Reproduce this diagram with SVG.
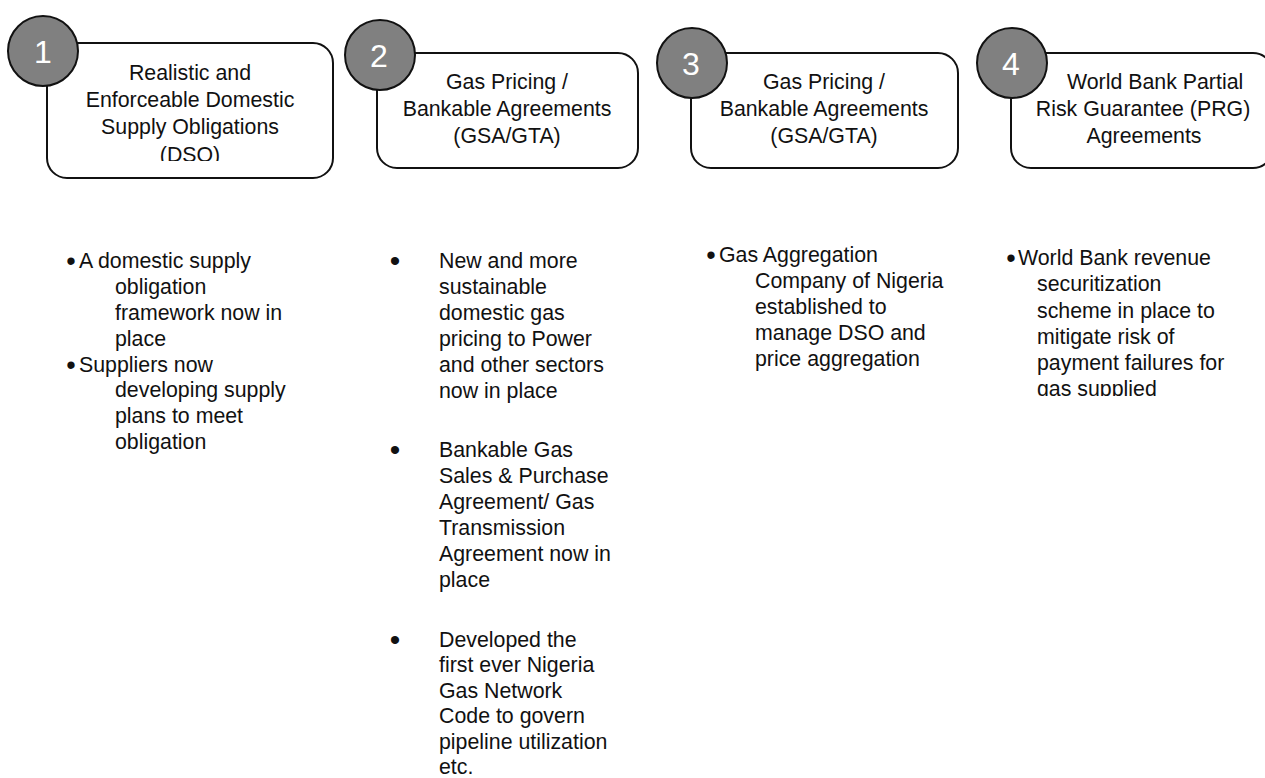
<svg xmlns="http://www.w3.org/2000/svg" width="1265" height="778" viewBox="0 0 1265 778">
<style>
text{font-family:"Liberation Sans",Arial,sans-serif;font-size:21.33px;fill:#111}
.box{fill:#fff;stroke:#111;stroke-width:2}
.num{fill:#808080;stroke:#111;stroke-width:2}
.nt{fill:#fff;font-size:32px;text-anchor:middle}
.c{text-anchor:middle}
.b{text-anchor:middle;font-size:27px}
.b2{text-anchor:middle;font-size:30px}
</style>
<defs>
<clipPath id="clip1"><rect x="47" y="43" width="286" height="118"/></clipPath>
<clipPath id="clip4"><rect x="990" y="230" width="275" height="166"/></clipPath>
</defs>
<g id="connectors"></g>
<g id="node1">
<rect class="box" x="47" y="43" width="286" height="135" rx="20"/>
<g clip-path="url(#clip1)">
<text class="c" x="190" y="80">Realistic and</text>
<text class="c" x="190" y="107">Enforceable Domestic</text>
<text class="c" x="190" y="134">Supply Obligations</text>
<text class="c" x="190" y="162">(DSO)</text>
</g>
<circle class="num" cx="43" cy="51" r="35"/>
<text class="nt" x="43" y="63">1</text>
</g>
<g id="node2">
<rect class="box" x="377" y="53" width="261" height="115" rx="20"/>
<text class="c" x="507" y="89">Gas Pricing /</text>
<text class="c" x="507" y="116">Bankable Agreements</text>
<text class="c" x="507" y="143">(GSA/GTA)</text>
<circle class="num" cx="380" cy="55" r="35"/>
<text class="nt" x="379" y="67">2</text>
</g>
<g id="node3">
<rect class="box" x="691" y="53" width="267" height="115" rx="20"/>
<text class="c" x="824" y="89">Gas Pricing /</text>
<text class="c" x="824" y="116">Bankable Agreements</text>
<text class="c" x="824" y="143">(GSA/GTA)</text>
<circle class="num" cx="692" cy="63" r="35"/>
<text class="nt" x="691" y="75">3</text>
</g>
<g id="node4">
<rect class="box" x="1011" y="53" width="262" height="115" rx="20"/>
<text x="1067" y="89">World Bank Partial</text>
<text class="c" x="1143" y="116">Risk Guarantee (PRG)</text>
<text class="c" x="1144" y="143">Agreements</text>
<circle class="num" cx="1012" cy="63" r="35"/>
<text class="nt" x="1011" y="75">4</text>
</g>
<g id="list1">
<text class="b" x="71" y="270">•</text>
<text x="79" y="268">A domestic supply</text>
<text x="115" y="294">obligation</text>
<text x="115" y="320">framework now in</text>
<text x="115" y="346">place</text>
<text class="b" x="71" y="374">•</text>
<text x="79" y="372">Suppliers now</text>
<text x="115" y="397">developing supply</text>
<text x="115" y="423">plans to meet</text>
<text x="115" y="449">obligation</text>
</g>
<g id="list2">
<text class="b2" x="395" y="271">•</text>
<text x="439" y="268">New and more</text>
<text x="439" y="294">sustainable</text>
<text x="439" y="320">domestic gas</text>
<text x="439" y="346">pricing to Power</text>
<text x="439" y="372">and other sectors</text>
<text x="439" y="398">now in place</text>
<text class="b2" x="395" y="460">•</text>
<text x="439" y="457">Bankable Gas</text>
<text x="439" y="483">Sales &amp; Purchase</text>
<text x="439" y="509">Agreement/ Gas</text>
<text x="439" y="535">Transmission</text>
<text x="439" y="561">Agreement now in</text>
<text x="439" y="587">place</text>
<text class="b2" x="395" y="650">•</text>
<text x="439" y="647">Developed the</text>
<text x="439" y="672">first ever Nigeria</text>
<text x="439" y="698">Gas Network</text>
<text x="439" y="723">Code to govern</text>
<text x="439" y="749">pipeline utilization</text>
<text x="439" y="774">etc.</text>
</g>
<g id="list3">
<text class="b" x="711" y="264">•</text>
<text x="719" y="262">Gas Aggregation</text>
<text x="755" y="288">Company of Nigeria</text>
<text x="755" y="314">established to</text>
<text x="755" y="340">manage DSO and</text>
<text x="755" y="366">price aggregation</text>
</g>
<g id="list4" clip-path="url(#clip4)">
<text class="b" x="1011" y="267">•</text>
<text x="1018" y="265">World Bank revenue</text>
<text x="1037" y="291">securitization</text>
<text x="1037" y="318">scheme in place to</text>
<text x="1037" y="344">mitigate risk of</text>
<text x="1037" y="370">payment failures for</text>
<text x="1037" y="396">gas supplied</text>
</g>
</svg>
